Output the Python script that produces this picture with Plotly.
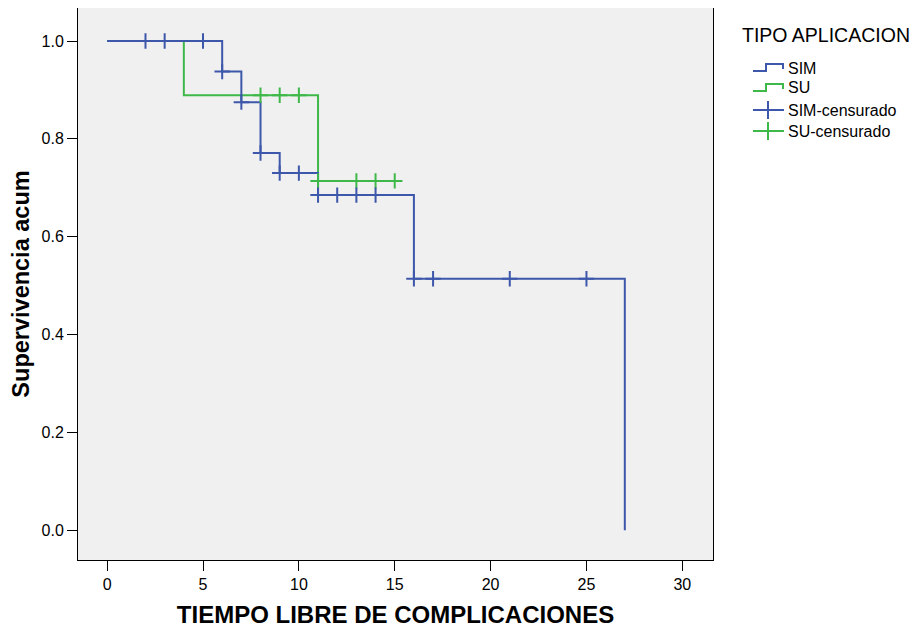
import plotly.graph_objects as go

# Kaplan-Meier step curves (time, survival)
sim_t = [0, 6, 7, 8, 9, 11, 16, 27]
sim_s = [1.0, 0.9375, 0.875, 0.771, 0.730, 0.685, 0.514, 0.0]
sim_end = 27

su_t = [0, 4, 11]
su_s = [1.0, 0.889, 0.714]
su_end = 15

# censored observations
sim_cens_t = [2, 3, 5, 6, 7, 8, 9, 10, 11, 12, 13, 14, 16, 17, 21, 25]
sim_cens_s = [1.0, 1.0, 1.0, 0.9375, 0.875, 0.771, 0.730, 0.730, 0.685, 0.685, 0.685, 0.685, 0.514, 0.514, 0.514, 0.514]
su_cens_t = [8, 9, 10, 11, 13, 14, 15]
su_cens_s = [0.889, 0.889, 0.889, 0.714, 0.714, 0.714, 0.714]

BLUE = "#3d57aa"
GREEN = "#3fb84a"

fig = go.Figure()
fig.add_trace(go.Scatter(x=su_t + [su_end], y=su_s + [su_s[-1]], mode="lines",
                         line=dict(color=GREEN, width=2, shape="hv"), name="SU"))
fig.add_trace(go.Scatter(x=sim_t, y=sim_s, mode="lines",
                         line=dict(color=BLUE, width=2, shape="hv"), name="SIM"))
fig.add_trace(go.Scatter(x=su_cens_t, y=su_cens_s, mode="markers",
                         marker=dict(symbol="cross-thin", size=11, line=dict(color=GREEN, width=2)),
                         name="SU-censurado"))
fig.add_trace(go.Scatter(x=sim_cens_t, y=sim_cens_s, mode="markers",
                         marker=dict(symbol="cross-thin", size=11, line=dict(color=BLUE, width=2)),
                         name="SIM-censurado"))

FONT = "Liberation Sans, Arial, sans-serif"
OFF = 8  # page body margin
W, H = 919 - OFF, 628 - OFF
pl, pr, pt, pb = 78 - OFF, 713 - OFF, 8 - OFF, 560 - OFF

fig.update_layout(
    width=W, height=H,
    margin=dict(l=pl, r=W - pr, t=pt, b=H - pb, pad=0),
    paper_bgcolor="white", plot_bgcolor="#f0f0f0",
    showlegend=False,
    font=dict(family=FONT, color="black", size=14),
    xaxis=dict(range=[-1.52, 31.6], tickvals=[0, 5, 10, 15, 20, 25, 30],
               ticks="outside", ticklen=10, tickcolor="black", showgrid=False, zeroline=False,
               showline=True, linecolor="black", linewidth=1, mirror=True,
               tickfont=dict(size=16, family=FONT),
               title=dict(text="<b>TIEMPO LIBRE DE COMPLICACIONES</b>", font=dict(size=24, family=FONT), standoff=16)),
    yaxis=dict(range=[-0.061, 1.0675], tickvals=[0, 0.2, 0.4, 0.6, 0.8, 1.0], tickformat=".1f",
               ticks="outside", ticklen=10, tickcolor="black", showgrid=False, zeroline=False,
               showline=True, linecolor="black", linewidth=1, mirror=True,
               tickfont=dict(size=16, family=FONT),
               title=dict(text="<b>Supervivencia acum</b>", font=dict(size=23.5, family=FONT), standoff=6)),
)

def px(x):
    return (x - OFF - pl) / (pr - pl)
def py(y):
    return (pb - (y - OFF)) / (pb - pt)

fig.add_annotation(x=px(740), y=py(35), xref="paper", yref="paper", text="TIPO APLICACION",
                   showarrow=False, xanchor="left", yanchor="middle",
                   font=dict(size=19.5, family=FONT, color="black"))

items = [("SIM", BLUE, "step", 68), ("SU", GREEN, "step", 88),
         ("SIM-censurado", BLUE, "cross", 110), ("SU-censurado", GREEN, "cross", 131)]
for label, col, kind, yc in items:
    if kind == "step":
        xs = [753, 766, 766, 783, 783]
        ys = [yc + 3, yc + 3, yc - 4, yc - 4, yc + 1]
        path = "M " + " L ".join(f"{px(a)},{py(b)}" for a, b in zip(xs, ys))
        fig.add_shape(type="path", path=path, xref="paper", yref="paper",
                      line=dict(color=col, width=2))
    else:
        fig.add_shape(type="line", x0=px(753), x1=px(784), y0=py(yc), y1=py(yc),
                      xref="paper", yref="paper", line=dict(color=col, width=2))
        fig.add_shape(type="line", x0=px(768), x1=px(768), y0=py(yc - 9), y1=py(yc + 9),
                      xref="paper", yref="paper", line=dict(color=col, width=2))
    fig.add_annotation(x=px(786), y=py(yc), xref="paper", yref="paper", text=label,
                       showarrow=False, xanchor="left", yanchor="middle",
                       font=dict(size=16, family=FONT, color="black"))

fig.write_html("out.html")
